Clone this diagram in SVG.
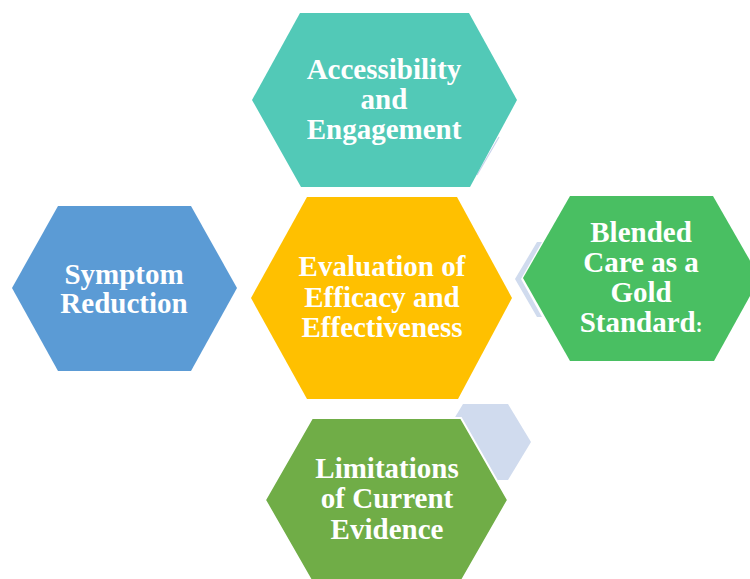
<svg xmlns="http://www.w3.org/2000/svg" width="750" height="579" viewBox="0 0 750 579">
<style>
.lbl{font-family:"Liberation Serif","Times New Roman",serif;font-weight:bold;font-size:29px;fill:#ffffff;text-anchor:middle}
.shadow{fill:#D0DBEE}
</style>
<rect width="750" height="579" fill="#ffffff"/>
<g id="decor">
<polygon class="shadow" points="440,442 463,404 508,404 531,442 508,480 463,480"/>
<polygon class="shadow" points="537,242 542,242 521,279 542,317 537,317 515,279"/>
<line x1="499" y1="137" x2="477" y2="175" stroke="#C9D3EC" stroke-width="1.2"/>
</g>
<g id="connectors"></g>
<g id="node-access">
<polygon points="252,100 300,13 469,13 517,100 470,187 301,187" fill="#52C9B7"/>
<text class="lbl" x="384" y="79">Accessibility</text>
<text class="lbl" x="384" y="109">and</text>
<text class="lbl" x="384" y="139">Engagement</text>
</g>
<g id="node-symptom">
<polygon points="12,288 58,206 191,206 237,288 191,371 58,371" fill="#5B9BD5"/>
<text class="lbl" x="124" y="284">Symptom</text>
<text class="lbl" x="124" y="313">Reduction</text>
</g>
<g id="node-eval">
<polygon points="251,298 307,197 457,197 512,298 458,399 307,399" fill="#FFC000"/>
<text class="lbl" x="382" y="276">Evaluation of</text>
<text class="lbl" x="382" y="307">Efficacy and</text>
<text class="lbl" x="382" y="337">Effectiveness</text>
</g>
<g id="node-blended">
<polygon points="523,278 570,196 713,196 760,278 714,361 570,361" fill="#49BF62"/>
<text class="lbl" x="641" y="242">Blended</text>
<text class="lbl" x="641" y="272">Care as a</text>
<text class="lbl" x="641" y="302">Gold</text>
<text class="lbl" x="641" y="332">Standard<tspan font-size="20">:</tspan></text>
</g>
<g id="node-limits">
<polygon points="265,500 312,418 461,418 508,500 461,582 312,582" fill="#70AD47" stroke="#ffffff" stroke-width="2"/>
<text class="lbl" x="387" y="478">Limitations</text>
<text class="lbl" x="387" y="508">of Current</text>
<text class="lbl" x="387" y="539">Evidence</text>
</g>
</svg>
